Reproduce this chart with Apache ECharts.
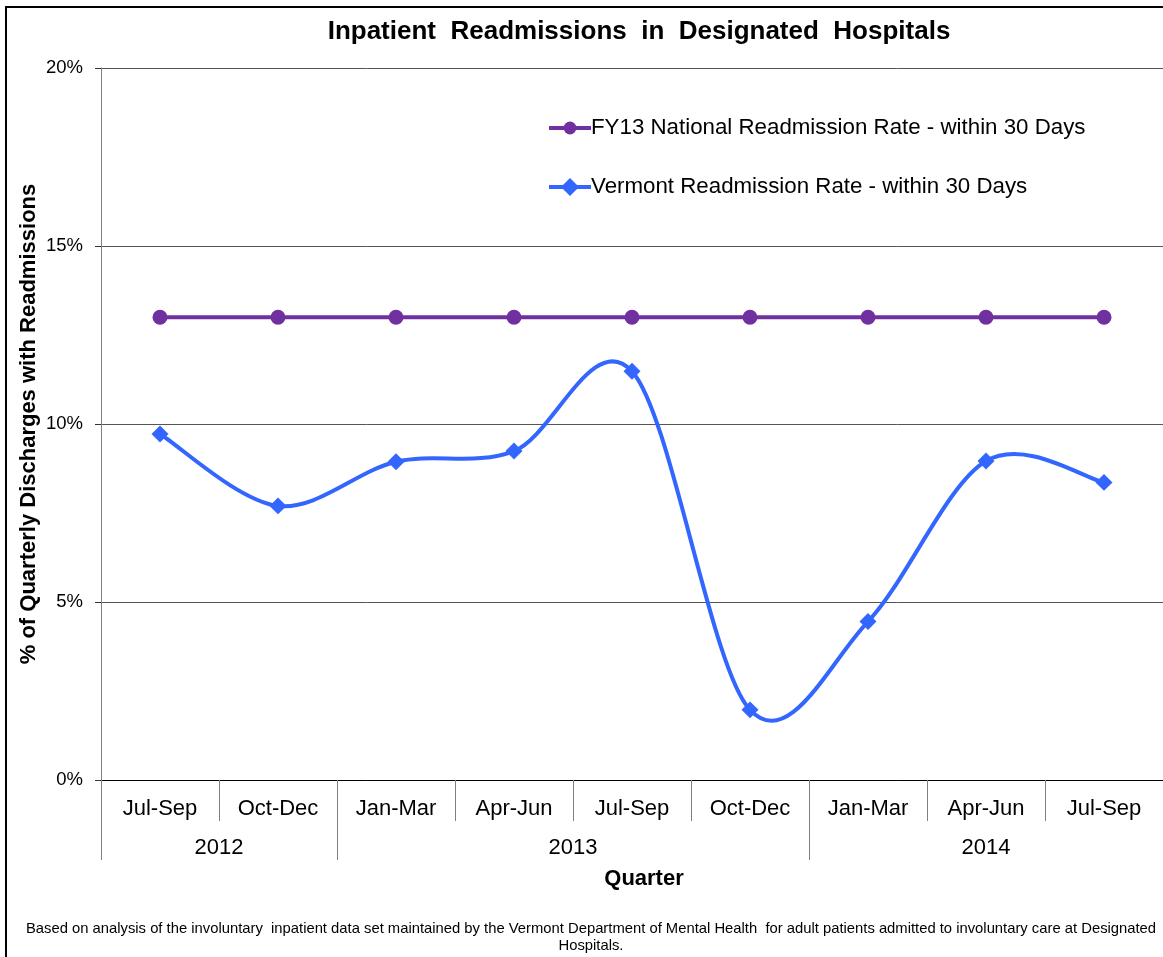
<!DOCTYPE html>
<html>
<head>
<meta charset="utf-8">
<script src="https://cdn.jsdelivr.net/npm/echarts@6/dist/echarts.min.js"></script>
<style>
html,body{margin:0;padding:0;background:#fff;}
#chart{width:1163px;height:957px;}
</style>
</head>
<body>
<div id="chart"></div>
<script>
const categories = ['Jul-Sep','Oct-Dec','Jan-Mar','Apr-Jun','Jul-Sep','Oct-Dec','Jan-Mar','Apr-Jun','Jul-Sep'];
const years = ['2012','2013','2014'];
const quartersPerYear = [2,4,3];
const nationalRate = [13,13,13,13,13,13,13,13,13];
const vermontRate = [9.72,7.70,8.94,9.24,11.48,1.97,4.45,8.96,8.36];

const FONT = 'Liberation Sans, Arial, sans-serif';

// year group boundaries and centres in category units
const yearBounds = [0];
const yearCenters = [];
quartersPerYear.forEach((n,i)=>{ const s = yearBounds[yearBounds.length-1]; yearCenters.push(s + n/2); yearBounds.push(s+n); });

// Excel-style smoothed curve (Catmull-Rom through the points, via the chart's own coordinate system)
function renderSmooth(params, api){
  const n = params.dataInsideLength;
  const i = params.dataIndexInside;
  if (i >= n-1) return null;
  const pt = j => { j = Math.max(0, Math.min(n-1, j)); return api.coord([api.value(0,j), api.value(1,j)]); };
  const p0 = pt(i-1), p1 = pt(i), p2 = pt(i+1), p3 = pt(i+2);
  const c1 = [p1[0] + (p2[0]-p0[0])/6, p1[1] + (p2[1]-p0[1])/6];
  const c2 = [p2[0] - (p3[0]-p1[0])/6, p2[1] - (p3[1]-p1[1])/6];
  return {
    type:'bezierCurve',
    shape:{x1:p1[0],y1:p1[1],x2:p2[0],y2:p2[1],cpx1:c1[0],cpy1:c1[1],cpx2:c2[0],cpy2:c2[1]},
    style:{stroke:'#3366FF',lineWidth:4,fill:null,lineCap:'round'}
  };
}

const chart = echarts.init(document.getElementById('chart'));
chart.setOption({
  backgroundColor:'#fff',
  animation:false,
  title:{
    text:'Inpatient  Readmissions  in  Designated  Hospitals',
    left:634, top:14, textAlign:'center',
    textStyle:{fontFamily:FONT,fontSize:26,fontWeight:'bold',color:'#000'}
  },
  legend:{
    orient:'vertical', left:542, top:112, itemGap:37,
    itemWidth:42, itemHeight:16,
    lineStyle:{width:4, opacity:1},
    textStyle:{fontFamily:FONT,fontSize:22.3,color:'#000',padding:[0,0,0,-5]},
    data:['FY13 National Readmission Rate - within 30 Days','Vermont Readmission Rate - within 30 Days']
  },
  grid:{left:101,right:-4,top:68,bottom:177,containLabel:false},
  xAxis:[{
    type:'category', data:categories, boundaryGap:true,
    axisLine:{show:true,lineStyle:{color:'#000',width:1}},
    axisTick:{show:true,interval:0,length:41,lineStyle:{color:'#808080'}},
    axisLabel:{interval:0,margin:18,fontFamily:FONT,fontSize:22,color:'#000'}
  },{
    type:'value', min:0, max:categories.length, position:'bottom',
    axisLine:{show:false},
    splitLine:{show:false},
    axisTick:{show:true,length:80,customValues:yearBounds.slice(0,-1),lineStyle:{color:'#808080'}},
    axisLabel:{show:true,margin:57,customValues:yearCenters,fontFamily:FONT,fontSize:22,color:'#000',
      formatter:function(v){ const i = yearCenters.indexOf(v); return i>=0 ? years[i] : ''; }}
  }],
  yAxis:{
    type:'value', min:0, max:20, interval:5,
    name:'% of Quarterly Discharges with Readmissions',
    nameLocation:'middle', nameGap:61, nameRotate:90, nameMoveOverlap:false,
    nameTextStyle:{fontFamily:FONT,fontSize:22,fontWeight:'bold',color:'#000'},
    axisLine:{show:true,lineStyle:{color:'#808080'}},
    axisTick:{show:true,length:6,lineStyle:{color:'#333'}},
    axisLabel:{margin:18,fontFamily:FONT,fontSize:18.5,color:'#000',formatter:'{value}%'},
    splitLine:{show:true,lineStyle:{color:'#555',width:1}}
  },
  graphic:[
    {type:'rect',shape:{x:6,y:7,width:1220,height:1000},style:{fill:'none',stroke:'#000',lineWidth:2},silent:true,z:-1},
    {type:'text',style:{text:'Quarter',fontFamily:FONT,fontSize:22,fontWeight:'bold',fill:'#000',x:644,y:879,align:'center',verticalAlign:'middle'}},
    {type:'text',style:{text:'Based on analysis of the involuntary  inpatient data set maintained by the Vermont Department of Mental Health  for adult patients admitted to involuntary care at Designated\nHospitals.',
      x:591,y:937,align:'center',verticalAlign:'middle',fontFamily:FONT,fontSize:14.8,lineHeight:17,fill:'#000'}}
  ],
  series:[{
    name:'FY13 National Readmission Rate - within 30 Days',
    type:'line', data:nationalRate,
    symbol:'circle', symbolSize:15,
    lineStyle:{color:'#7030A0',width:4},
    itemStyle:{color:'#7030A0'}
  },{
    name:'Vermont Readmission Rate - within 30 Days',
    type:'line', data:vermontRate, z:3,
    symbol:'rect', symbolSize:12, symbolRotate:45,
    lineStyle:{color:'#3366FF',width:4,opacity:0},
    itemStyle:{color:'#3366FF'}
  },{
    name:'Vermont curve',
    type:'custom', z:2,
    data:vermontRate.map((v,i)=>[i,v]),
    encode:{x:0,y:1},
    renderItem:renderSmooth
  }]
});
</script>
</body>
</html>
